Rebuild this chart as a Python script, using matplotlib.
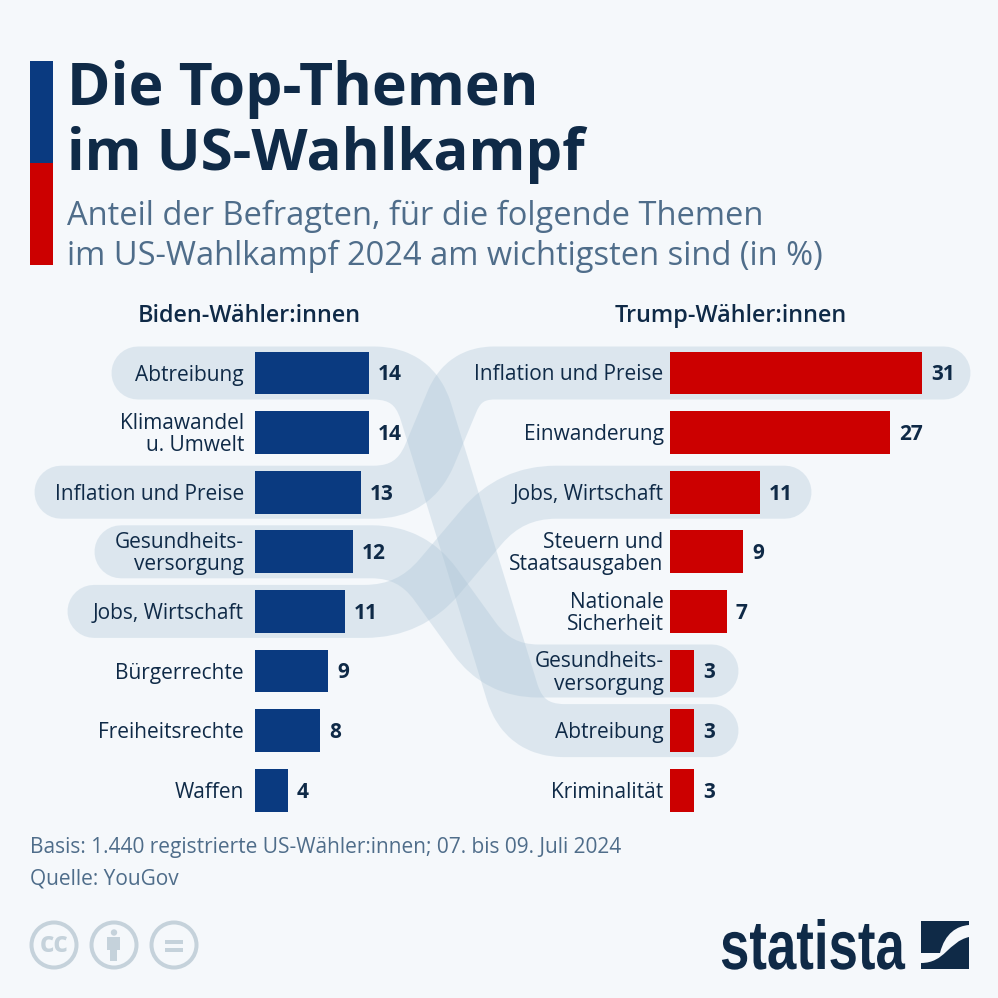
import math

import matplotlib
matplotlib.use("Agg")
from matplotlib import pyplot as plt
from matplotlib.patches import Circle, PathPatch, Rectangle
from matplotlib.patheffects import AbstractPathEffect
from matplotlib.path import Path
from matplotlib.transforms import Affine2D

biden_labels = ["Abtreibung", "Klimawandel\nu. Umwelt", "Inflation und Preise", "Gesundheits-\nversorgung",
                "Jobs, Wirtschaft", "Bürgerrechte", "Freiheitsrechte", "Waffen"]
biden_values = [14, 14, 13, 12, 11, 9, 8, 4]
trump_labels = ["Inflation und Preise", "Einwanderung", "Jobs, Wirtschaft", "Steuern und\nStaatsausgaben",
                "Nationale\nSicherheit", "Gesundheits-\nversorgung", "Abtreibung", "Kriminalität"]
trump_values = [31, 27, 11, 9, 7, 3, 3, 3]

SIZE = 998
BG = "#f5f8fb"
BLUE = "#0a3a80"
RED = "#cc0000"
DARK = "#0f2a47"
MUTED = "#4f6d8a"
PX_PER_UNIT = 8.14
ROW_STEP = 59.6
ROW_TOP = 373.0
FONT = "Open Sans"

plt.rcParams["font.family"] = [FONT, "DejaVu Sans"]


def px(size):
    """Pixel size to points at dpi 100."""
    return size * 0.72


def row_y(i):
    return ROW_TOP + i * ROW_STEP


class SqueezeX(AbstractPathEffect):
    """Narrow a text horizontally around a display x, no condensed bold font is installed."""

    def __init__(self, x0, factor):
        super().__init__()
        self.x0 = x0
        self.factor = factor

    def draw_path(self, renderer, gc, tpath, affine, rgbFace=None):
        squeeze = Affine2D().translate(-self.x0, 0).scale(self.factor, 1).translate(self.x0, 0)
        renderer.draw_path(gc, tpath, affine + squeeze, rgbFace)


fig = plt.figure(figsize=(SIZE / 100, SIZE / 100), dpi=100, facecolor=BG)

# full figure layer in pixel coordinates for ribbons, title and logos
bg = fig.add_axes([0, 0, 1, 1], zorder=0)
bg.set_xlim(0, SIZE)
bg.set_ylim(SIZE, 0)
bg.axis("off")


def ribbon(x_start, i_start, corner_a, corner_b, x_end, i_end, r_a=40, r_b=40):
    """Horizontal run, rounded corner, straight diagonal, rounded corner, horizontal run."""
    y0, y1 = row_y(i_start), row_y(i_end)
    dx, dy = corner_b - corner_a, y1 - y0
    length = math.hypot(dx, dy)
    ux, uy = dx / length, dy / length
    sign = 1 if x_end > x_start else -1
    verts = [(x_start, y0), (corner_a - sign * r_a, y0), (corner_a, y0),
             (corner_a + ux * r_a, y0 + uy * r_a), (corner_b - ux * r_b, y1 - uy * r_b),
             (corner_b, y1), (corner_b + sign * r_b, y1), (x_end, y1)]
    codes = [Path.MOVETO, Path.LINETO, Path.CURVE3, Path.CURVE3, Path.LINETO, Path.CURVE3, Path.CURVE3, Path.LINETO]
    bg.add_patch(PathPatch(Path(verts, codes), fill=False, edgecolor="#abc4d6", alpha=0.33,
                           lw=px(53), capstyle="round", joinstyle="round"))


ribbon(138, 0, 414, 524, 712, 6)
ribbon(61, 2, 414, 464, 944, 0, 40, 30)
ribbon(94, 4, 410, 511, 785, 2, 45, 45)
ribbon(121, 3, 412, 498, 712, 5, 40, 40)

# title block
bg.add_patch(Rectangle((30, 61), 23, 102, color=BLUE, lw=0))
bg.add_patch(Rectangle((30, 163), 23, 102, color=RED, lw=0))
bg.text(67, 105, "Die Top-Themen", fontsize=px(59), fontweight="bold", color=DARK, va="baseline")
bg.text(67, 170, "im US-Wahlkampf", fontsize=px(58.2), fontweight="bold", color=DARK, va="baseline")
bg.text(67, 225, "Anteil der Befragten, für die folgende Themen", fontsize=px(32.7), color=MUTED, va="baseline")
bg.text(67, 265, "im US-Wahlkampf 2024 am wichtigsten sind (in %)", fontsize=px(32.7), color=MUTED, va="baseline")

bg.text(249, 316, "Biden-Wähler:innen", fontsize=px(23.4), fontweight="semibold", color=DARK, ha="center", va="center")
bg.text(731, 316, "Trump-Wähler:innen", fontsize=px(23.4), fontweight="semibold", color=DARK, ha="center", va="center")

bg.text(30, 848, "Basis: 1.440 registrierte US-Wähler:innen; 07. bis 09. Juli 2024", fontsize=px(20.9),
        color=MUTED, va="center")
bg.text(30, 879, "Quelle: YouGov", fontsize=px(20.9), color=MUTED, va="center")


def bar_panel(x_left, labels, values, color, label_gap):
    width = 35.0
    top = ROW_TOP - ROW_STEP / 2
    height = ROW_STEP * len(values)
    ax = fig.add_axes([x_left / SIZE, 1 - (top + height) / SIZE, width * PX_PER_UNIT / SIZE, height / SIZE],
                      zorder=1)
    ax.patch.set_alpha(0)
    ax.set_xlim(0, width)
    ax.set_ylim(len(values) - 0.5, -0.5)
    ax.axis("off")
    rows = list(range(len(values)))
    ax.barh(rows, values, height=0.72, color=color, lw=0)
    for i, (label, value) in enumerate(zip(labels, values)):
        ax.annotate(label, (0, i), xytext=(-px(label_gap), px(-2)), textcoords="offset points", ha="right",
                    va="center", multialignment="right", fontsize=px(20.9), color=DARK, linespacing=1.08,
                    annotation_clip=False)
        ax.annotate(str(value), (value, i), xytext=(px(9), px(-2)), textcoords="offset points", ha="left",
                    va="center", fontsize=px(20.9), fontweight="bold", color=DARK, annotation_clip=False)
    return ax


bar_panel(255, biden_labels, biden_values, BLUE, 11)
bar_panel(670, trump_labels, trump_values, RED, 6.5)

# licence icons
ICON = "#c5d2db"
for cx in (54, 114, 174):
    bg.add_patch(Circle((cx, 945), 22.5, fill=False, edgecolor=ICON, lw=px(4)))
bg.text(54, 944, "cc", fontsize=px(28), fontweight="bold", color=ICON, ha="center", va="center")
bg.add_patch(Circle((114, 932.5), 3.2, color=ICON, lw=0))
bg.add_patch(Rectangle((107.5, 937), 13, 13, color=ICON, lw=0))
bg.add_patch(Rectangle((110.5, 949), 7, 12, color=ICON, lw=0))
bg.add_patch(Rectangle((165.5, 939.5), 18, 4, color=ICON, lw=0))
bg.add_patch(Rectangle((165.5, 947.5), 18, 4, color=ICON, lw=0))

# statista logo
LOGO = "#0f2a47"
bg.text(720, 969, "statista", fontsize=px(69), fontweight="bold", family=["Liberation Sans"],
        color=LOGO, va="baseline", path_effects=[SqueezeX(720, 0.765)])
upper = [(921, 921), (969, 921), (969, 925), (957, 926), (945, 933), (940, 953), (921, 953), (921, 921)]
upper_codes = [Path.MOVETO, Path.LINETO, Path.LINETO, Path.CURVE4, Path.CURVE4, Path.CURVE4, Path.LINETO, Path.CLOSEPOLY]
lower = [(969, 937), (969, 969), (921, 969), (921, 963), (945, 963), (948, 942), (969, 937), (969, 937)]
lower_codes = [Path.MOVETO, Path.LINETO, Path.LINETO, Path.LINETO, Path.CURVE4, Path.CURVE4, Path.CURVE4, Path.CLOSEPOLY]
bg.add_patch(PathPatch(Path(upper, upper_codes), facecolor=LOGO, lw=0))
bg.add_patch(PathPatch(Path(lower, lower_codes), facecolor=LOGO, lw=0))

fig.savefig("out.png", dpi=100, facecolor=BG)
